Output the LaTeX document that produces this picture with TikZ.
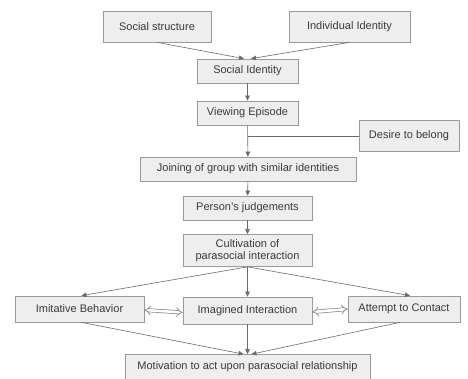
\documentclass[tikz,border=0pt]{standalone}
\usepackage{fontspec}
\setmainfont{Liberation Sans}
\usetikzlibrary{arrows.meta}
\definecolor{boxfill}{HTML}{EEEEEE}
\definecolor{boxline}{HTML}{9A9A9A}
\definecolor{txt}{HTML}{3A3A3A}
\definecolor{conn}{HTML}{6A6A6A}
\definecolor{dblline}{HTML}{858585}
\begin{document}
\begin{tikzpicture}[x=1pt,y=-1pt,
  box/.style={draw=boxline, fill=boxfill, line width=0.7pt, rectangle, inner sep=0pt,
    text=txt, font=\fontsize{11}{12.5}\selectfont, align=center},
  conn/.style={draw=conn, line width=0.6pt, -{Triangle[length=5pt,width=4.5pt]}},
  plain/.style={draw=conn, line width=0.6pt},
  dbl/.style={draw=dblline, line width=0.7pt, double=white, double distance=2.6pt, {Implies}-{Implies}}
]
\useasboundingbox (0,0) rectangle (468,379);
\node[box, minimum width=108pt, minimum height=31pt] (ss) at (157,26.5) {Social structure};
\node[box, minimum width=121pt, minimum height=31pt] (ind) at (349.5,26.5) {Individual Identity};
\node[box, minimum width=101pt, minimum height=24pt] (si) at (247.5,71) {Social Identity};
\node[box, minimum width=101pt, minimum height=24pt] (ve) at (247.5,113) {Viewing Episode};
\node[box, minimum width=100pt, minimum height=31pt] (de) at (409,136) {Desire to belong};
\node[box, minimum width=216pt, minimum height=24pt] (jo) at (248,169) {Joining of group with similar identities};
\node[box, minimum width=129pt, minimum height=24pt] (pj) at (247.5,208) {Person's judgements};
\node[box, minimum width=129pt, minimum height=32pt] (cu) at (247.5,250.5) {Cultivation of\\parasocial interaction};
\node[box, minimum width=129pt, minimum height=26pt] (ib) at (79.5,309) {Imitative Behavior};
\node[box, minimum width=129pt, minimum height=27pt] (ii) at (247.5,310.5) {Imagined Interaction};
\node[box, minimum width=112pt, minimum height=26pt] (ac) at (404,309) {Attempt to Contact};
\node[box, minimum width=245pt, minimum height=25pt] (mo) at (247.5,367) {Motivation to act upon parasocial relationship};
\coordinate (jn) at (ve.south |- de.west);

\draw[conn] (ss.south) -- ([xshift=-3.5pt]si.north);
\draw[conn] (ind.south) -- ([xshift=3.5pt]si.north);
\draw[conn] (si) -- (ve);
\draw[conn] (ve) -- (jo);
\draw[plain] (de.west) -- (jn);
\draw[conn] (jo) -- (pj);
\draw[conn] (pj) -- (cu);
\draw[conn] (cu.south) -- ([xshift=2pt]ib.north);
\draw[conn] (cu.south) -- (ii.north);
\draw[conn] (cu.south) -- ([xshift=6pt]ac.north);
\draw[conn] ([xshift=2pt]ib.south) -- ([xshift=-4pt]mo.north);
\draw[conn] (ii.south) -- (mo.north);
\draw[conn] ([xshift=-4pt]ac.south) -- ([xshift=4pt]mo.north);
\draw[dbl] ([yshift=-1pt]ib.east) -- ([yshift=-2pt]ii.west);
\draw[dbl] ([yshift=-1.5pt]ii.east) -- ([yshift=0pt]ac.west);
\end{tikzpicture}
\end{document}
